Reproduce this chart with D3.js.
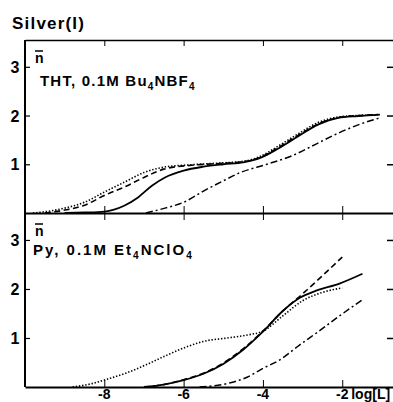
<!DOCTYPE html>
<html>
<head>
<meta charset="utf-8">
<script src="https://cdn.jsdelivr.net/npm/d3@7"></script>
<style>
  body { margin: 0; background: #fff; }
  svg { display: block; }
  text { font-family: "Liberation Sans", Arial, sans-serif; font-weight: bold; fill: #000; }
</style>
</head>
<body>
<svg id="plot" width="393" height="402"></svg>
<script>
// x ticks (log[L]) and y ticks (n-bar)
var xTicks = [-8, -6, -4, -2];
var yTicks = [1, 2, 3];

// upper panel: THT, 0.1M Bu4NBF4
var thtSolid = [[-9.0,0],[-8.5,0.01],[-8.0,0.03],[-7.5,0.15],[-7.15,0.32],[-6.8,0.56],[-6.47,0.73],[-6.0,0.87],[-5.5,0.95],[-5.0,1.0],[-4.5,1.04],[-4.1,1.12],[-3.6,1.33],[-3.1,1.58],[-2.6,1.82],[-2.1,1.95],[-1.6,1.99],[-1.05,2.02]];
var thtDashed = [[-9.5,0],[-9.0,0.06],[-8.5,0.16],[-8.0,0.36],[-7.5,0.53],[-7.0,0.73],[-6.5,0.9],[-5.8,0.98],[-5.0,1.02],[-4.5,1.05],[-4.1,1.13],[-3.6,1.35],[-3.1,1.6],[-2.6,1.83],[-2.1,1.96],[-1.6,2.0],[-1.1,2.02]];
var thtDotted = [[-9.8,0],[-9.3,0.05],[-9.0,0.1],[-8.5,0.22],[-8.0,0.43],[-7.5,0.63],[-7.0,0.83],[-6.5,0.94],[-5.8,0.99],[-5.0,1.03],[-4.5,1.06],[-4.1,1.15],[-3.6,1.38],[-3.1,1.63],[-2.6,1.86],[-2.1,1.97],[-1.6,2.0],[-1.1,2.01]];
var thtDashDot = [[-6.95,0],[-6.47,0.1],[-6.0,0.22],[-5.5,0.45],[-5.0,0.66],[-4.6,0.82],[-3.9,1.0],[-3.25,1.18],[-2.6,1.44],[-2.07,1.65],[-1.56,1.82],[-1.06,1.95]];

// lower panel: Py, 0.1M Et4NClO4
var pySolid = [[-7.0,0],[-6.5,0.05],[-6.0,0.14],[-5.5,0.27],[-5.0,0.47],[-4.5,0.76],[-4.0,1.13],[-3.5,1.55],[-3.07,1.82],[-2.64,1.97],[-2.07,2.11],[-1.49,2.31]];
var pyDashed = [[-7.0,0],[-6.5,0.05],[-6.0,0.15],[-5.5,0.28],[-5.0,0.49],[-4.5,0.78],[-4.0,1.14],[-3.5,1.55],[-3.0,1.9],[-2.5,2.27],[-2.0,2.65]];
var pyDotted = [[-8.8,0],[-8.36,0.06],[-7.93,0.16],[-7.43,0.29],[-6.93,0.46],[-6.42,0.65],[-5.92,0.82],[-5.5,0.93],[-4.9,1.0],[-4.4,1.06],[-4.0,1.14],[-3.5,1.45],[-3.0,1.76],[-2.5,1.93],[-2.0,2.02]];
var pyDashDot = [[-5.6,0],[-4.9,0.07],[-4.4,0.2],[-4.0,0.38],[-3.58,0.55],[-3.07,0.86],[-2.57,1.15],[-2.07,1.45],[-1.49,1.78]];

var svg = d3.select('#plot');
var left = 25, right = 393;
var xs = d3.scaleLinear().domain([-10, -0.72]).range([left, right]);
var yTop = d3.scaleLinear().domain([0, 3.55]).range([213, 40]);
var yBot = d3.scaleLinear().domain([0, 3.55]).range([387, 213]);

var styles = {
    solid:   {w: 1.8, dash: null},
    dashed:  {w: 1.6, dash: '6,3.5'},
    dotted:  {w: 1.6, dash: '1.4,1.8'},
    dashdot: {w: 1.5, dash: '7,3,2,3'}
};

function drawPanel(ys, series) {
    var line = d3.line()
        .x(function(d) {return xs(d[0]);})
        .y(function(d) {return ys(d[1]);})
        .curve(d3.curveMonotoneX);
    series.forEach(function(s) {
        svg.append('path')
            .datum(s.data)
            .attr('d', line)
            .attr('fill', 'none')
            .attr('stroke', '#000')
            .attr('stroke-width', styles[s.style].w)
            .attr('stroke-dasharray', styles[s.style].dash);
    });

    // left axis, ticks pointing inward
    var ax = svg.append('g')
        .attr('transform', 'translate(' + left + ',0)')
        .call(d3.axisRight(ys).tickValues(yTicks).tickSize(5).tickFormat(''));
    ax.select('.domain').remove();
    ax.selectAll('line').attr('stroke-width', 1.2);
    yTicks.forEach(function(t) {
        svg.append('text')
            .attr('x', 15).attr('y', ys(t) + 6)
            .attr('text-anchor', 'middle')
            .style('font-size', '16px')
            .text(t);
    });

    // short ticks on the right edge, no axis line
    var ar = svg.append('g')
        .attr('transform', 'translate(' + (right - 6) + ',0)')
        .call(d3.axisRight(ys).tickValues(yTicks).tickSize(6).tickFormat(''));
    ar.select('.domain').remove();
    ar.selectAll('line').attr('stroke-width', 1.5);
}

drawPanel(yTop, [
    {data: thtDotted, style: 'dotted'},
    {data: thtDashed, style: 'dashed'},
    {data: thtDashDot, style: 'dashdot'},
    {data: thtSolid, style: 'solid'}
]);
drawPanel(yBot, [
    {data: pyDotted, style: 'dotted'},
    {data: pyDashed, style: 'dashed'},
    {data: pyDashDot, style: 'dashdot'},
    {data: pySolid, style: 'solid'}
]);

// frame: top edge, separator, bottom axis
var topAx = svg.append('g')
    .attr('transform', 'translate(0,40)')
    .call(d3.axisBottom(xs).tickValues(xTicks).tickSize(6).tickFormat('').tickSizeOuter(0));
var midUp = svg.append('g')
    .attr('transform', 'translate(0,213)')
    .call(d3.axisTop(xs).tickValues(xTicks).tickSize(7).tickFormat('').tickSizeOuter(0));
var midDown = svg.append('g')
    .attr('transform', 'translate(0,213)')
    .call(d3.axisBottom(xs).tickValues(xTicks).tickSize(7).tickFormat('').tickSizeOuter(0));
var botAx = svg.append('g')
    .attr('transform', 'translate(0,387)')
    .call(d3.axisTop(xs).tickValues(xTicks).tickSize(7).tickFormat('').tickSizeOuter(0));
topAx.select('.domain').attr('stroke-width', 1.5);
midUp.select('.domain').attr('stroke-width', 2.2);
botAx.select('.domain').attr('stroke-width', 2);
svg.selectAll('.tick line').attr('stroke', '#000');
svg.selectAll('.domain').attr('stroke', '#000');

// left axis line
svg.append('line')
    .attr('x1', left).attr('x2', left)
    .attr('y1', 40).attr('y2', 387)
    .attr('stroke', '#000').attr('stroke-width', 2);

// x tick labels
xTicks.forEach(function(t) {
    svg.append('text')
        .attr('x', xs(t)).attr('y', 399)
        .attr('text-anchor', 'middle')
        .style('font-size', '14px')
        .text(t);
});
svg.append('text')
    .attr('x', xs(-2) + 9).attr('y', 399)
    .style('font-size', '14px')
    .text('log[L]');

// title
svg.append('text')
    .attr('x', 12).attr('y', 29)
    .style('font-size', '17px')
    .style('letter-spacing', '1.2px')
    .text('Silver(I)');

// n-bar labels
function nbar(x, y) {
    svg.append('text')
        .attr('x', x).attr('y', y)
        .style('font-size', '14px')
        .text('n');
    svg.append('line')
        .attr('x1', x).attr('x2', x + 8)
        .attr('y1', y - 12).attr('y2', y - 12)
        .attr('stroke', '#000').attr('stroke-width', 1.5);
}
nbar(35, 63);
nbar(35, 236);

// panel labels
var t1 = svg.append('text').attr('x', 40).attr('y', 86).style('font-size', '15px').style('letter-spacing', '1.2px');
t1.append('tspan').text('THT, 0.1M Bu');
t1.append('tspan').attr('dy', 4).style('font-size', '10px').text('4');
t1.append('tspan').attr('dy', -4).text('NBF');
t1.append('tspan').attr('dy', 4).style('font-size', '10px').text('4');

var t2 = svg.append('text').attr('x', 33).attr('y', 255).style('font-size', '15px').style('letter-spacing', '2px');
t2.append('tspan').text('Py, 0.1M Et');
t2.append('tspan').attr('dy', 4).style('font-size', '10px').text('4');
t2.append('tspan').attr('dy', -4).text('NClO');
t2.append('tspan').attr('dy', 4).style('font-size', '10px').text('4');
</script>
</body>
</html>
